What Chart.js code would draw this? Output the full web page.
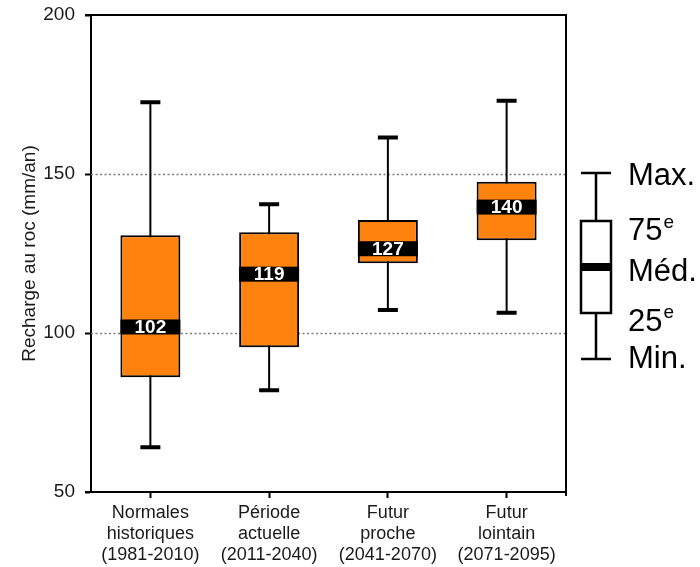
<!DOCTYPE html>
<html>
<head>
<meta charset="utf-8">
<script src="https://cdn.jsdelivr.net/npm/chart.js@4.4.0/dist/chart.umd.min.js"></script>
<style>
  html, body { margin: 0; padding: 0; background: #fff; }
  #wrap { width: 700px; height: 567px; }
</style>
</head>
<body>
<div id="wrap"><canvas id="chart"></canvas></div>
<script>
// ---- data ----
const categories = [
    ["Normales", "historiques", "(1981-2010)"],
    ["Période", "actuelle", "(2011-2040)"],
    ["Futur", "proche", "(2041-2070)"],
    ["Futur", "lointain", "(2071-2095)"]
];
const minValues    = [64.1, 82.0, 107.2, 106.4];
const q1Values     = [86.1, 95.5, 121.9, 129.2];
const medianValues = [101.9, 118.5, 126.5, 139.6];
const q3Values     = [130.7, 131.7, 135.5, 147.6];
const maxValues    = [172.6, 140.5, 161.5, 173.0];
const yTicks = [50, 100, 150, 200];
const dottedLines = [100, 150];
const legendLabels = ["Max.", "75", "Méd.", "25", "Min."];

const FONT = '"Liberation Sans", Arial, sans-serif';
Chart.defaults.font.family = FONT;
Chart.defaults.color = '#1a1a1a';

// whiskers, median bands, frame and the key on the right
const boxPlotExtras = {
    id: 'boxPlotExtras',
    beforeDatasetsDraw(chart) {
        const {ctx, chartArea: area, scales: {y}} = chart;
        ctx.save();
        // dotted grid lines
        ctx.strokeStyle = '#7a7a7a';
        ctx.lineWidth = 1.5;
        ctx.setLineDash([2, 2.5]);
        dottedLines.forEach(v => {
            let py = Math.round(y.getPixelForValue(v)) + 0.5;
            ctx.beginPath();
            ctx.moveTo(area.left, py);
            ctx.lineTo(area.right, py);
            ctx.stroke();
        });
        ctx.setLineDash([]);
        // whiskers
        let bars = chart.getDatasetMeta(0).data;
        ctx.strokeStyle = '#000';
        bars.forEach((bar, i) => {
            let x = bar.x;
            let yMin = y.getPixelForValue(minValues[i]);
            let yMax = y.getPixelForValue(maxValues[i]);
            ctx.lineWidth = 2;
            ctx.beginPath();
            ctx.moveTo(x, yMin);
            ctx.lineTo(x, yMax);
            ctx.stroke();
            ctx.lineWidth = 4;
            ctx.beginPath();
            ctx.moveTo(x - 10, yMin);
            ctx.lineTo(x + 10, yMin);
            ctx.moveTo(x - 10, yMax);
            ctx.lineTo(x + 10, yMax);
            ctx.stroke();
        });
        ctx.restore();
    },
    afterDatasetsDraw(chart) {
        const {ctx, scales: {y}} = chart;
        let bars = chart.getDatasetMeta(0).data;
        ctx.save();
        bars.forEach((bar, i) => {
            let py = y.getPixelForValue(medianValues[i]);
            let w = bar.width;
            ctx.fillStyle = '#000';
            ctx.fillRect(bar.x - w / 2, py - 7.5, w, 15);
            ctx.fillStyle = '#fff';
            ctx.font = 'bold 19px ' + FONT;
            ctx.textAlign = 'center';
            ctx.textBaseline = 'middle';
            ctx.fillText(Math.round(medianValues[i]), bar.x, py + 1);
        });
        ctx.restore();
    },
    afterDraw(chart) {
        const {ctx, chartArea: area} = chart;
        ctx.save();
        ctx.strokeStyle = '#000';
        ctx.lineWidth = 2;
        ctx.beginPath();
        // top line and right side of the frame
        ctx.moveTo(area.left - 6, area.top);
        ctx.lineTo(area.right, area.top);
        ctx.lineTo(area.right, area.bottom + 4);
        // x axis reaching left
        ctx.moveTo(area.left - 6, area.bottom);
        ctx.lineTo(area.left, area.bottom);
        ctx.stroke();

        // key
        let kx = area.right + 15, kw = 30, t = area.top;
        ctx.lineWidth = 2.5;
        ctx.beginPath();
        ctx.moveTo(kx + kw / 2, t + 158);
        ctx.lineTo(kx + kw / 2, t + 206);
        ctx.moveTo(kx + kw / 2, t + 298);
        ctx.lineTo(kx + kw / 2, t + 344);
        ctx.moveTo(kx, t + 158);
        ctx.lineTo(kx + kw, t + 158);
        ctx.moveTo(kx, t + 344);
        ctx.lineTo(kx + kw, t + 344);
        ctx.stroke();
        ctx.strokeRect(kx, t + 206, kw, 92);
        ctx.fillStyle = '#000';
        ctx.fillRect(kx, t + 248, kw, 8);

        ctx.fillStyle = '#000';
        ctx.textAlign = 'left';
        ctx.textBaseline = 'middle';
        let tx = area.right + 62;
        let ty = [161, 216.5, 257, 307, 344.5];
        legendLabels.forEach((label, i) => {
            ctx.font = '31px ' + FONT;
            ctx.fillText(label, tx, t + ty[i]);
            if (label === "75" || label === "25") {
                let w = ctx.measureText(label).width;
                ctx.font = '19px ' + FONT;
                ctx.fillText('e', tx + w + 1, t + ty[i] - 9);
            }
        });
        ctx.restore();
    }
};

new Chart(document.getElementById('chart'), {
    type: 'bar',
    data: {
        labels: categories,
        datasets: [{
            data: q1Values.map((q1, i) => [q1, q3Values[i]]),
            backgroundColor: '#FF820F',
            borderColor: '#000',
            borderWidth: 2,
            borderSkipped: false,
            categoryPercentage: 1,
            barPercentage: 0.505
        }]
    },
    options: {
        responsive: true,
        maintainAspectRatio: false,
        animation: false,
        layout: { padding: { top: 15, right: 134, left: 0, bottom: 0 } },
        plugins: {
            legend: { display: false },
            tooltip: { enabled: false }
        },
        scales: {
            x: {
                grid: {
                    offset: false,
                    drawOnChartArea: false,
                    drawTicks: true,
                    tickLength: 6,
                    tickColor: '#000',
                    tickWidth: 2
                },
                border: { display: true, color: '#000', width: 2 },
                ticks: {
                    font: { size: 18, lineHeight: 1.15 },
                    padding: 5,
                    maxRotation: 0,
                    autoSkip: false
                },
                afterFit(scale) {
                    scale.height = 75;
                    scale.paddingLeft = 0;
                    scale.paddingRight = 0;
                }
            },
            y: {
                min: 50,
                max: 200,
                afterBuildTicks(scale) {
                    scale.ticks = yTicks.map(v => ({ value: v }));
                },
                grid: {
                    drawOnChartArea: false,
                    drawTicks: true,
                    tickLength: 6,
                    tickColor: '#000',
                    tickWidth: 2
                },
                border: { display: true, color: '#000', width: 2 },
                ticks: {
                    font: { size: 19 },
                    padding: 10
                },
                title: {
                    display: true,
                    text: 'Recharge au roc (mm/an)',
                    font: { size: 19 },
                    padding: { top: 18, bottom: 0 }
                },
                afterFit(scale) {
                    scale.width = 91;
                    scale.paddingTop = 0;
                    scale.paddingBottom = 0;
                }
            }
        }
    },
    plugins: [boxPlotExtras]
});
</script>
</body>
</html>
